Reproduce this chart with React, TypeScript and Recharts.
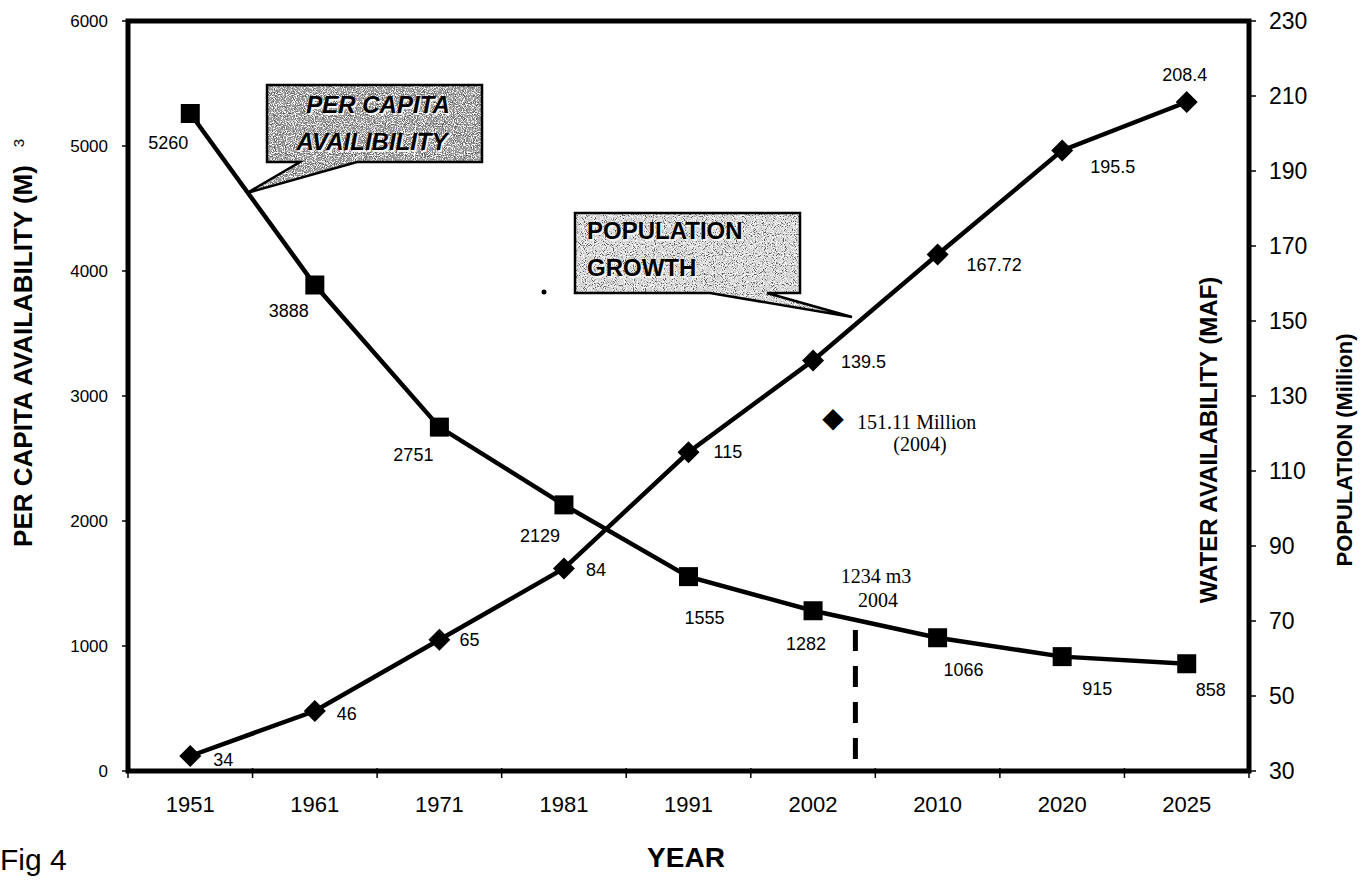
import React from "react"
import { LineChart, Line, XAxis, YAxis, ReferenceArea, ReferenceLine, LabelList } from "recharts"

// census / projection years and the two series
const years = ["1951", "1961", "1971", "1981", "1991", "2002", "2010", "2020", "2025"]
const perCapita = [5260, 3888, 2751, 2129, 1555, 1282, 1066, 915, 858]
const population = [34, 46, 65, 84, 115, 139.5, 167.72, 195.5, 208.4]

const leftTicks = [0, 1000, 2000, 3000, 4000, 5000, 6000]
const rightTicks = [30, 50, 70, 90, 110, 130, 150, 170, 190, 210, 230]

// 2004 marker on the year scale (between 2002 and 2010)
const markYear = 5.34
const markTop = 1128

// where each value label sits relative to its point
const perCapitaLabelPos = [
  [-22, 29], [-26, 26], [-26, 28], [-24, 31], [16, 41], [-7, 33], [26, 32], [35, 32], [24, 26],
]
const populationLabelPos = [
  [23, 4], [22, 3], [20, 0], [22, 1], [25, 0], [28, 2], [29, 10], [28, 17], [-2, -27],
]

const data = years.map((year, i) => ({
  i,
  year,
  perCapita: perCapita[i],
  population: population[i],
}))

const SANS = "'Liberation Sans', Arial, sans-serif"
const SERIF = "'Liberation Serif', 'Times New Roman', serif"

const xTicks: number[] = []
for (let k = -0.5; k <= 8.5; k += 0.5) xTicks.push(k)

function XTick(props: any) {
  const { x, y, payload } = props
  const v = payload.value
  if (Number.isInteger(v)) {
    return (
      <text x={x} y={y + 41} textAnchor="middle" fontSize={22} fontFamily={SANS} fill="#000">
        {years[v]}
      </text>
    )
  }
  return <line x1={x} y1={y - 3} x2={x} y2={y + 7} stroke="#000" strokeWidth={1.5} />
}

function SquareDot(props: any) {
  const { cx, cy } = props
  if (cx == null || cy == null) return null
  return <rect x={cx - 9.5} y={cy - 9.5} width={19} height={19} fill="#000" />
}

function DiamondDot(props: any) {
  const { cx, cy } = props
  if (cx == null || cy == null) return null
  const r = 11
  return <polygon points={`${cx},${cy - r} ${cx + r},${cy} ${cx},${cy + r} ${cx - r},${cy}`} fill="#000" />
}

function PerCapitaLabel(props: any) {
  const { x, y, value, index } = props
  const [dx, dy] = perCapitaLabelPos[index]
  return (
    <text x={x + dx} y={y + dy} textAnchor="middle" dominantBaseline="central" fontSize={18} fontFamily={SANS} fill="#000">
      {value}
    </text>
  )
}

function PopulationLabel(props: any) {
  const { x, y, value, index } = props
  const [dx, dy] = populationLabelPos[index]
  const anchor = index === population.length - 1 ? "middle" : "start"
  return (
    <text x={x + dx} y={y + dy} textAnchor={anchor} dominantBaseline="central" fontSize={18} fontFamily={SANS} fill="#000">
      {value}
    </text>
  )
}

// grainy grey fill used by the two callouts
function Grain({ id, base, seed }: { id: string; base: string; seed: number }) {
  return (
    <filter id={id} x="0" y="0" width="100%" height="100%">
      <feTurbulence type="fractalNoise" baseFrequency="1.1" numOctaves="1" seed={seed} result="n" />
      <feColorMatrix in="n" type="matrix" values="0 0 0 0 1 0 0 0 0 1 0 0 0 0 1 9 0 0 0 -4.6" result="light" />
      <feColorMatrix in="n" type="matrix" values="0 0 0 0 0.1 0 0 0 0 0.1 0 0 0 0 0.1 -9 0 0 0 3.9" result="dark" />
      <feFlood floodColor={base} result="bg" />
      <feMerge>
        <feMergeNode in="bg" />
        <feMergeNode in="light" />
        <feMergeNode in="dark" />
      </feMerge>
      <feComposite operator="in" in2="SourceGraphic" />
    </filter>
  )
}

// bold caption with a pale offset halo, as in the callout boxes
function CalloutText({ x, y, anchor, italic, children }: any) {
  const common = {
    x,
    y,
    textAnchor: anchor,
    fontSize: 24,
    fontWeight: "bold",
    fontStyle: italic ? "italic" : "normal",
    fontFamily: SANS,
  }
  return (
    <g>
      <text {...common} dx={1.5} dy={1.5} fill="#f4f4f4">{children}</text>
      <text {...common} fill="#000">{children}</text>
    </g>
  )
}

function Overlay() {
  const capitaPath = "M267,85 H482 V162 H357 L247,193 L300,162 H267 Z"
  const popPath = "M575,213 H800 V293 H767 L852,317 L710,293 H575 Z"
  return (
    <svg width={1365} height={880} style={{ position: "absolute", left: 0, top: 0, pointerEvents: "none" }}>
      <defs>
        <Grain id="grainDark" base="#999999" seed={5} />
        <Grain id="grainLight" base="#d2d2d2" seed={9} />
      </defs>

      {/* per capita callout */}
      <path d={capitaPath} fill="#fff" filter="url(#grainDark)" />
      <path d={capitaPath} fill="none" stroke="#000" strokeWidth={2.5} />
      <CalloutText x={378} y={113} anchor="middle" italic>PER CAPITA</CalloutText>
      <CalloutText x={372} y={150} anchor="middle" italic>AVAILIBILITY</CalloutText>

      {/* population callout */}
      <path d={popPath} fill="#fff" filter="url(#grainLight)" />
      <path d={popPath} fill="none" stroke="#000" strokeWidth={2.5} />
      <CalloutText x={587} y={239} anchor="start">POPULATION</CalloutText>
      <CalloutText x={587} y={276} anchor="start">GROWTH</CalloutText>
      <circle cx={544} cy={292} r={2.5} fill="#000" />

      {/* 2004 notes */}
      <text x={833} y={427} textAnchor="middle" fontSize={28} fontFamily="'DejaVu Sans', sans-serif" fill="#000">◆</text>
      <text x={857} y={429} fontSize={20} fontFamily={SERIF} fill="#000">151.11 Million</text>
      <text x={920} y={451} textAnchor="middle" fontSize={20} fontFamily={SERIF} fill="#000">(2004)</text>
      <text x={876} y={583} textAnchor="middle" fontSize={20} fontFamily={SERIF} fill="#000">1234 m3</text>
      <text x={878} y={607} textAnchor="middle" fontSize={20} fontFamily={SERIF} fill="#000">2004</text>

      {/* axis titles */}
      <text transform="translate(32,356) rotate(-90)" textAnchor="middle" fontSize={26} fontWeight="bold" fontFamily={SANS} fill="#000">
        PER CAPITA AVAILABILITY (M)
      </text>
      <text transform="translate(24,143) rotate(-90)" textAnchor="middle" fontSize={15} fontFamily={SANS} fill="#000">3</text>
      <text transform="translate(1217,440) rotate(-90)" textAnchor="middle" fontSize={24} fontWeight="bold" fontFamily={SANS} fill="#000">
        WATER AVAILABILITY (MAF)
      </text>
      <text transform="translate(1352,450) rotate(-90)" textAnchor="middle" fontSize={22} fontWeight="bold" fontFamily={SANS} fill="#000">
        POPULATION (Million)
      </text>
      <text x={686} y={867} textAnchor="middle" fontSize={28} fontWeight="bold" fontFamily={SANS} fill="#000">YEAR</text>
      <text x={0} y={870} fontSize={30} fontFamily={SANS} fill="#000">Fig 4</text>
    </svg>
  )
}

export default function App() {
  return (
    <div style={{ position: "absolute", left: 0, top: 0, width: 1365, height: 880, background: "#fff" }}>
      <LineChart width={1365} height={880} data={data} margin={{ top: 21, right: 56, left: 68, bottom: 59 }}>
        <XAxis
          dataKey="i"
          type="number"
          domain={[-0.5, 8.5]}
          ticks={xTicks}
          interval={0}
          tick={<XTick />}
          tickLine={false}
          tickSize={0}
          tickMargin={0}
          axisLine={false}
          height={50}
        />
        <YAxis
          yAxisId="left"
          domain={[0, 6000]}
          ticks={leftTicks}
          width={60}
          axisLine={false}
          tickSize={6}
          tickMargin={14}
          tickLine={{ stroke: "#000", strokeWidth: 1.5 }}
          tick={{ fill: "#000", fontSize: 17, fontFamily: SANS }}
        />
        <YAxis
          yAxisId="right"
          orientation="right"
          domain={[30, 230]}
          ticks={rightTicks}
          width={60}
          axisLine={false}
          tickSize={7}
          tickMargin={13}
          tickLine={{ stroke: "#000", strokeWidth: 1.5 }}
          tick={{ fill: "#000", fontSize: 23, fontFamily: SANS }}
        />
        <ReferenceArea
          yAxisId="left"
          x1={-0.5}
          x2={8.5}
          y1={0}
          y2={6000}
          fill="none"
          stroke="#000"
          strokeWidth={5}
          ifOverflow="visible"
        />
        <ReferenceLine
          yAxisId="left"
          segment={[{ x: markYear, y: markTop }, { x: markYear, y: 0 }]}
          stroke="#000"
          strokeWidth={5}
          strokeDasharray="21 15"
          ifOverflow="visible"
        />
        <Line
          yAxisId="left"
          dataKey="perCapita"
          stroke="#000"
          strokeWidth={4.5}
          dot={<SquareDot />}
          activeDot={false}
          isAnimationActive={false}
        >
          <LabelList dataKey="perCapita" content={<PerCapitaLabel />} />
        </Line>
        <Line
          yAxisId="right"
          dataKey="population"
          stroke="#000"
          strokeWidth={4.5}
          dot={<DiamondDot />}
          activeDot={false}
          isAnimationActive={false}
        >
          <LabelList dataKey="population" content={<PopulationLabel />} />
        </Line>
      </LineChart>
      <Overlay />
    </div>
  )
}
